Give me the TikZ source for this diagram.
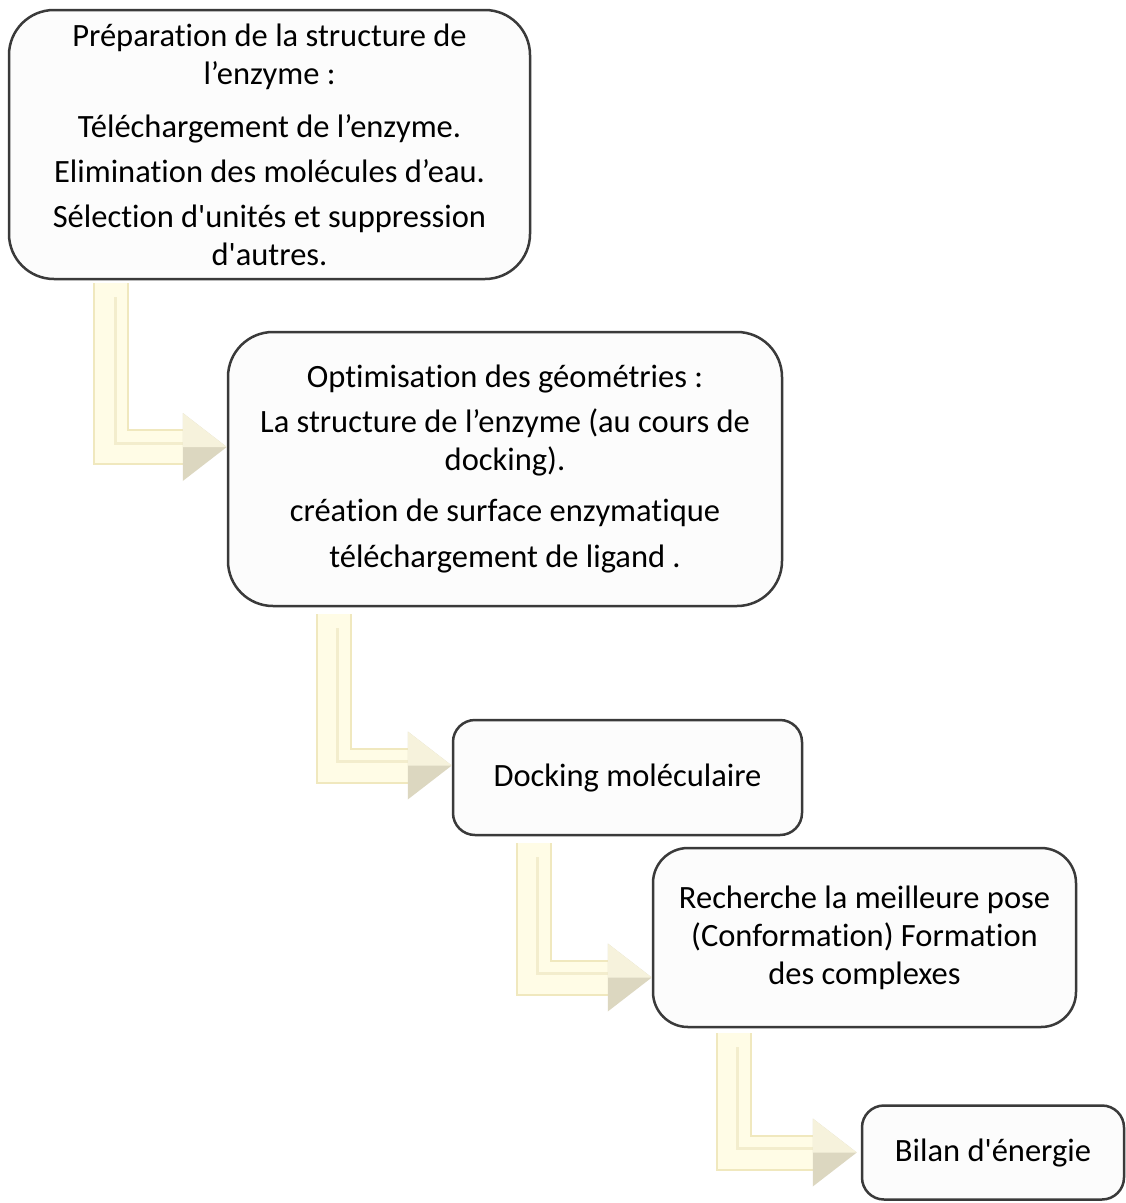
\documentclass[tikz,border=0pt]{standalone}
\usepackage{fontspec}
\setmainfont{Carlito}[Ligatures={NoCommon}]
\usetikzlibrary{calc}
\definecolor{boxedge}{HTML}{3A3A3A}
\definecolor{boxfill}{HTML}{FCFCFC}
\definecolor{flowedge}{HTML}{F0E8BE}
\definecolor{flowbody}{HTML}{FFFCE6}
\definecolor{flowmid}{HTML}{F3EDCD}
\definecolor{tipdark}{HTML}{DCD7C0}
\definecolor{tiplight}{HTML}{F6F2DC}
\tikzset{
	stepbox/.style={draw=boxedge, line width=2.5pt, fill=boxfill, align=center, inner sep=0pt, font=\fontsize{32.5}{38}\selectfont},
	shaft/.style={line width=#1, line cap=butt, line join=miter},
}
\newcommand{\lflow}[2]{%
	\draw[shaft=36pt, flowedge] (#1) |- ($(#2)+(-40,0)$);
	\draw[shaft=32pt, flowbody] (#1) |- ($(#2)+(-40,0)$);
	\draw[shaft=3pt, flowmid] ($(#1)+(4,14)$) |- ($(#2)+(-40,-4)$);
	\fill[tipdark] (#2) -- ++(-44,-34) -- ++(0,68) -- cycle;
	\fill[tiplight] (#2) -- ++(-44,-34) -- ++(0,34) -- cycle;
}

\begin{document}
\begin{tikzpicture}[x=1pt,y=-1pt]
		\useasboundingbox[fill=white] (0,0) rectangle (1126,1203);
		%
		\node[stepbox, rounded corners=45pt, minimum width=521pt, minimum height=269pt] (prep) at (269.5,144.5)
			{Préparation de la structure de\\l’enzyme :\\[15pt]Téléchargement de l’enzyme.\\[7pt]Elimination des molécules d’eau.\\[7pt]Sélection d\textquotesingle unités et suppression\\d\textquotesingle autres.};
		\node[stepbox, rounded corners=45pt, minimum width=554pt, minimum height=274pt] (opt) at (505,469)
			{Optimisation des géométries :\\[7pt]La structure de l’enzyme (au cours de\\docking).\\[13pt]création de surface enzymatique\\[8pt]téléchargement de ligand .};
		\node[stepbox, rounded corners=22pt, minimum width=349pt, minimum height=115pt] (dock) at (627.5,777.5)
			{Docking moléculaire};
		\node[stepbox, rounded corners=35pt, minimum width=423pt, minimum height=179pt] (pose) at (864.5,937.5)
			{Recherche la meilleure pose\\(Conformation) Formation\\des complexes};
		\node[stepbox, rounded corners=22pt, minimum width=262pt, minimum height=94pt] (nrj) at (993,1152.5)
			{Bilan d\textquotesingle énergie};
		%
		\coordinate (a1) at ($(prep.south west)+(103.5,3)$);
		\coordinate (a2) at ($(opt.south west)+(107,7)$);
		\coordinate (a3) at ($(dock.south west)+(82,7)$);
		\coordinate (a4) at ($(pose.south west)+(82,5)$);
		\coordinate (t1) at ($(opt.west)+(0,-22)$);
		\coordinate (t2) at ($(dock.west)+(0,-12)$);
		\coordinate (t3) at ($(pose.west)+(0,40)$);
		\coordinate (t4) at ($(nrj.west)+(-4,0)$);
		%
		\lflow{a1}{t1}
		\lflow{a2}{t2}
		\lflow{a3}{t3}
		\lflow{a4}{t4}
\end{tikzpicture}
\end{document}
